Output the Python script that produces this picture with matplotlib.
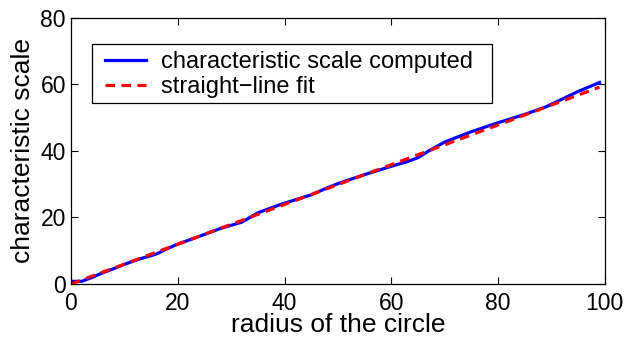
import matplotlib
matplotlib.use('Agg')
import matplotlib.pyplot as plt
import matplotlib.patches as mpatches

plt.rcParams['font.family'] = ['Liberation Sans', 'DejaVu Sans']

# computed characteristic scale vs radius
radius = [0, 2, 4, 6, 8, 10, 13, 16, 18, 20, 24, 28, 32, 35, 38, 40, 45, 48, 50,
          55, 60, 63, 65, 67, 70, 75, 80, 85, 89, 92, 95, 99]
scale = [0.8, 0.8, 2.0, 3.4, 4.6, 5.9, 7.6, 9.0, 10.6, 12.0, 14.3, 16.7, 18.6, 21.4,
         23.2, 24.3, 26.8, 28.9, 30.2, 32.9, 35.4, 36.8, 38.0, 40.0, 42.7, 45.8,
         48.5, 51.0, 53.3, 55.6, 57.9, 60.6]

# straight-line fit endpoints
fit_x = [0, 99]
fit_y = [0.0, 59.2]

fig = plt.figure(figsize=(6.32, 3.37), dpi=100)
ax = fig.add_axes([0.1123, 0.1573, 0.8447, 0.7893])

ax.plot(radius, scale, color='#0000ff', linewidth=2.3, label='characteristic scale computed')
ax.plot(fit_x, fit_y, color='#ff0000', linewidth=2.3, linestyle=(0, (3, 2)), label='straight\u2212line fit')

ax.set_xlim(0, 100)
ax.set_ylim(0, 80)
ax.set_xticks([0, 20, 40, 60, 80, 100])
ax.set_yticks([0, 20, 40, 60, 80])
ax.tick_params(direction='in', top=True, right=True, length=5, width=0.8, labelsize=16.5)
ax.tick_params(axis='x', pad=6)
ax.tick_params(axis='y', pad=3.6)
for s in ax.spines.values():
    s.set_linewidth(0.9)

ax.set_xlabel('radius of the circle', fontsize=19, labelpad=-1.5)
ax.set_ylabel('characteristic scale', fontsize=19, labelpad=4)

# legend frame drawn by hand (wider padding at the sides than at top/bottom)
ax.add_patch(mpatches.Rectangle((0.0393, 0.680), 0.749, 0.222, transform=ax.transAxes,
                                facecolor='white', edgecolor='black', linewidth=0.9, zorder=4))
leg = ax.legend(loc='upper left', bbox_to_anchor=(0.064, 0.875), fontsize=17, frameon=False,
                handlelength=1.75, borderpad=0.0, labelspacing=0.12, handletextpad=0.6,
                borderaxespad=0)
leg.set_zorder(5)

fig.savefig('out.png', dpi=100, facecolor='white')
